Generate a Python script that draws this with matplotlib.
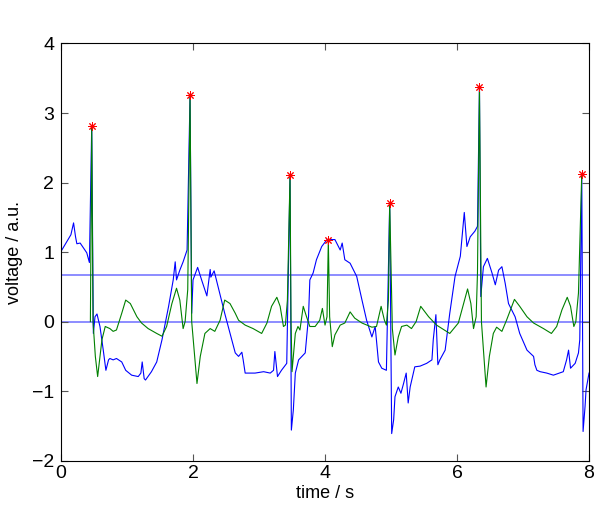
import matplotlib
matplotlib.use("Agg")
import matplotlib.pyplot as plt

# ---- data -----------------------------------------------------------------
# raw signal (blue)
blue_t = [0.00, 0.15, 0.19, 0.22, 0.24, 0.29, 0.39, 0.43, 0.465, 0.49, 0.515, 0.545,
          0.59, 0.64, 0.68, 0.72, 0.74, 0.79, 0.84, 0.92, 0.98, 1.07, 1.17, 1.21,
          1.23, 1.26, 1.28, 1.37, 1.45, 1.53, 1.63, 1.70, 1.73, 1.75, 1.80, 1.85,
          1.91, 1.955, 1.98, 2.00, 2.07, 2.13, 2.21, 2.26, 2.27, 2.32, 2.38, 2.48,
          2.64, 2.69, 2.74, 2.76, 2.79, 2.94, 3.07, 3.17, 3.22, 3.24, 3.28, 3.34,
          3.42, 3.47, 3.49, 3.52, 3.55, 3.60, 3.65, 3.70, 3.75, 3.77, 3.82, 3.87,
          3.95, 4.03, 4.15, 4.23, 4.26, 4.30, 4.38, 4.48, 4.56, 4.63, 4.71, 4.76,
          4.81, 4.86, 4.93, 4.98, 5.01, 5.04, 5.06, 5.11, 5.15, 5.19, 5.23, 5.26,
          5.29, 5.36, 5.44, 5.54, 5.62, 5.64, 5.68, 5.71, 5.74, 5.82, 5.89, 5.97,
          6.05, 6.11, 6.15, 6.20, 6.27, 6.31, 6.34, 6.36, 6.40, 6.46, 6.53, 6.58,
          6.63, 6.68, 6.73, 6.78, 6.88, 6.95, 7.06, 7.16, 7.18, 7.21, 7.26, 7.36,
          7.46, 7.61, 7.66, 7.69, 7.72, 7.79, 7.84, 7.86, 7.89, 7.91, 7.94, 7.955,
          8.00]
blue_v = [1.01, 1.25, 1.42, 1.22, 1.12, 1.13, 0.99, 0.85, 2.81, -0.17, 0.07, 0.11,
          -0.07, -0.41, -0.70, -0.55, -0.53, -0.55, -0.53, -0.58, -0.70, -0.77, -0.79, -0.74,
          -0.58, -0.82, -0.84, -0.72, -0.58, -0.26, 0.22, 0.60, 0.86, 0.60, 0.74, 0.86,
          1.03, 3.26, 0.12, 0.60, 0.78, 0.60, 0.37, 0.75, 0.64, 0.73, 0.50, 0.12,
          -0.45, -0.50, -0.44, -0.55, -0.74, -0.74, -0.72, -0.74, -0.70, -0.43, -0.79, -0.70,
          -0.60, 2.11, -1.56, -1.27, -0.74, -0.55, -0.50, -0.45, 0.07, 0.60, 0.70, 0.89,
          1.08, 1.18, 1.18, 1.03, 1.13, 0.89, 0.84, 0.65, 0.31, 0.02, -0.22, -0.07,
          -0.58, -0.67, -0.70, 1.70, -1.61, -1.41, -1.08, -0.94, -1.03, -0.89, -0.74, -1.17,
          -0.94, -0.65, -0.64, -0.60, -0.55, -0.26, 0.10, -0.62, -0.55, -0.41, 0.12, 0.65,
          0.94, 1.57, 1.08, 1.22, 1.30, 1.37, 3.37, 0.36, 0.79, 0.91, 0.70, 0.53,
          0.74, 0.79, 0.55, 0.26, 0.07, -0.17, -0.41, -0.50, -0.62, -0.70, -0.72, -0.74,
          -0.77, -0.72, -0.55, -0.41, -0.67, -0.60, -0.45, -0.26, 2.13, -1.58, -1.22, -0.98,
          -0.74]

# filtered signal (green)
green_t = [0.445, 0.465, 0.485, 0.52, 0.555, 0.62, 0.67, 0.74, 0.79, 0.84, 0.92,
           0.98, 1.05, 1.15, 1.22, 1.32, 1.45, 1.53, 1.60, 1.68, 1.75, 1.80, 1.85,
           1.88, 1.92, 1.955, 1.98, 2.06, 2.11, 2.18, 2.26, 2.33, 2.41, 2.48, 2.56,
           2.64, 2.69, 2.79, 2.91, 3.04, 3.12, 3.19, 3.27, 3.32, 3.37, 3.40, 3.43,
           3.47, 3.485, 3.50, 3.55, 3.59, 3.62, 3.67, 3.72, 3.77, 3.85, 3.92, 3.96,
           4.00, 4.03, 4.05, 4.07, 4.11, 4.15, 4.23, 4.30, 4.38, 4.45, 4.56, 4.71,
           4.78, 4.85, 4.90, 4.93, 4.96, 4.98, 5.02, 5.06, 5.11, 5.16, 5.24, 5.31,
           5.38, 5.45, 5.57, 5.69, 5.89, 6.02, 6.10, 6.16, 6.21, 6.25, 6.29, 6.31,
           6.34, 6.37, 6.44, 6.49, 6.55, 6.60, 6.68, 6.75, 6.87, 6.95, 7.06, 7.16,
           7.31, 7.43, 7.51, 7.59, 7.67, 7.72, 7.77, 7.80, 7.84, 7.89]
green_v = [0.00, 2.81, 0.00, -0.50, -0.79, -0.26, -0.07, -0.10, -0.14, -0.12, 0.12,
           0.31, 0.26, 0.07, -0.02, -0.10, -0.17, -0.21, -0.07, 0.26, 0.48, 0.31, -0.10,
           0.00, 0.46, 3.26, 0.00, -0.89, -0.50, -0.17, -0.10, -0.14, 0.02, 0.31, 0.26,
           0.12, 0.02, -0.05, -0.10, -0.17, -0.02, 0.22, 0.35, 0.22, -0.07, -0.05, 0.31,
           2.11, 0.00, -0.72, -0.17, -0.07, -0.12, 0.22, 0.07, -0.07, -0.07, 0.02, 0.19,
           -0.05, 0.07, 1.18, 0.07, -0.36, -0.19, -0.05, -0.02, 0.14, 0.05, -0.02, -0.08,
           -0.07, 0.22, 0.02, -0.05, 0.31, 1.70, -0.10, -0.48, -0.22, -0.07, -0.05, -0.10,
           0.00, 0.22, 0.07, -0.05, -0.17, -0.02, 0.26, 0.47, 0.26, -0.10, 0.07, 0.70,
           3.37, 0.00, -0.94, -0.50, -0.17, -0.08, -0.14, 0.02, 0.32, 0.22, 0.07, -0.02,
           -0.10, -0.17, -0.07, 0.17, 0.35, 0.22, -0.07, 0.00, 0.41, 2.13]

# detected peaks (red stars)
peak_t = [0.465, 1.955, 3.47, 4.05, 4.98, 6.34, 7.89]
peak_v = [2.81, 3.26, 2.11, 1.18, 1.70, 3.37, 2.12]

# horizontal reference levels
levels = [0.0, 0.67]

xticks = [0, 2, 4, 6, 8]
yticks = [-2, -1, 0, 1, 2, 3, 4]

plt.rcParams["font.family"] = ["Liberation Sans", "DejaVu Sans"]

fig = plt.figure(figsize=(6.0, 5.14), dpi=100)
ax = fig.add_axes([0.1017, 0.1037, 0.88, 0.8117])

for lv in levels:
    ax.axhline(lv, color="#0000ff", lw=1.4, alpha=0.45, zorder=1)
ax.plot(blue_t, blue_v, color="#0000ff", lw=0.8, zorder=2)
ax.plot(green_t, green_v, color="#008000", lw=0.8, zorder=3)
# MATLAB style '*' marker: 8-armed asterisk
ax.plot(peak_t, peak_v, marker=(8, 2, 0), color="red", ms=6, mew=0.7,
        ls="none", zorder=4)

ax.set_xlim(0, 8)
ax.set_ylim(-2, 4)
ax.set_xticks(xticks)
ax.set_yticks(yticks)
ax.set_yticklabels([str(v).replace("-", "\u2212") for v in yticks])
ax.tick_params(direction="in", top=True, right=True, labelsize=14, length=5,
               color="#555555")
ax.tick_params(axis="x", pad=3)
ax.tick_params(axis="y", pad=5)
ax.set_xlabel("time / s", fontsize=13, labelpad=2)
ax.set_ylabel("voltage / a.u.", fontsize=13, labelpad=6)

fig.savefig("out.png", dpi=100)
